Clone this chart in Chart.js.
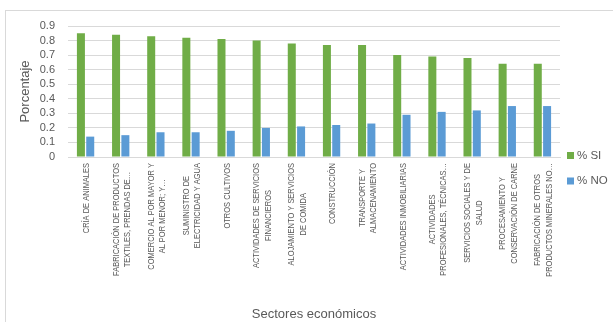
<!DOCTYPE html>
<html>
<head>
<meta charset="utf-8">
<script src="https://cdn.jsdelivr.net/npm/chart.js@4"></script>
<style>
  html, body { margin: 0; padding: 0; background: #fff; }
  #wrap { position: relative; width: 613px; height: 322px; }
</style>
</head>
<body>
<div id="wrap"><canvas id="chart" width="613" height="322"></canvas></div>
<script>
// Sectores (líneas tal como se ven en el eje)
const sectores = [
    ['CRÍA DE ANIMALES'],
    ['FABRICACIÓN DE PRODUCTOS', 'TEXTILES, PRENDAS DE…'],
    ['COMERCIO AL POR MAYOR Y', 'AL POR MENOR; Y…'],
    ['SUMINISTRO DE', 'ELECTRICIDAD Y AGUA'],
    ['OTROS CULTIVOS'],
    ['ACTIVIDADES DE SERVICIOS', 'FINANCIEROS'],
    ['ALOJAMIENTO Y SERVICIOS', 'DE COMIDA'],
    ['CONSTRUCCIÓN'],
    ['TRANSPORTE Y', 'ALMACENAMIENTO'],
    ['ACTIVIDADES INMOBILIARIAS'],
    ['ACTIVIDADES', 'PROFESIONALES, TÉCNICAS…'],
    ['SERVICIOS SOCIALES Y DE', 'SALUD'],
    ['PROCESAMIENTO Y', 'CONSERVACIÓN DE CARNE'],
    ['FABRICACIÓN DE OTROS', 'PRODUCTOS MINERALES NO…']
];

const valoresSi = [0.85, 0.84, 0.83, 0.82, 0.81, 0.80, 0.78, 0.77, 0.77, 0.70, 0.69, 0.68, 0.64, 0.64];
const valoresNo = [0.14, 0.15, 0.17, 0.17, 0.18, 0.20, 0.21, 0.22, 0.23, 0.29, 0.31, 0.32, 0.35, 0.35];

const yTickLabels = ['0', '0.1', '0.2', '0.3', '0.4', '0.5', '0.6', '0.7', '0.8', '0.9'];

const gris = '#595959';
const lineaGris = '#d9d9d9';

// Marco del gráfico + etiquetas del eje X + leyenda
const extrasPlugin = {
    id: 'extras',
    beforeDraw(chart) {
        const ctx = chart.ctx;
        ctx.save();
        ctx.strokeStyle = lineaGris;
        ctx.lineWidth = 1;
        ctx.strokeRect(5.5, 10.5, 700, 400);
        ctx.restore();
    },
    afterDraw(chart) {
        const ctx = chart.ctx;
        const xScale = chart.scales.x;
        const top = chart.chartArea.bottom + 6;
        const pitch = 11.5;
        const sx = 0.78;

        ctx.save();
        ctx.fillStyle = gris;
        ctx.font = '9.6px "Liberation Sans", Arial, sans-serif';
        ctx.textAlign = 'center';
        ctx.textBaseline = 'middle';
        sectores.forEach((lines, i) => {
            const x = xScale.getPixelForValue(i) + 1;
            const maxW = Math.max(...lines.map(l => ctx.measureText(l).width));
            ctx.save();
            ctx.translate(x, top);
            ctx.rotate(-Math.PI / 2);
            ctx.scale(sx, 1);
            lines.forEach((l, j) => {
                const off = (j - (lines.length - 1) / 2) * pitch;
                ctx.fillText(l, -maxW / 2, off);
            });
            ctx.restore();
        });

        // leyenda
        ctx.font = '11.5px "Liberation Sans", Arial, sans-serif';
        ctx.textAlign = 'left';
        ctx.textBaseline = 'middle';
        const items = chart.data.datasets;
        items.forEach((ds, k) => {
            const y = 155.5 + k * 25.5;
            ctx.fillStyle = ds.backgroundColor;
            ctx.fillRect(567, y - 3.5, 7, 7);
            ctx.fillStyle = gris;
            ctx.fillText(ds.label, 577, y);
        });
        ctx.restore();
    }
};

new Chart(document.getElementById('chart'), {
    type: 'bar',
    data: {
        labels: sectores,
        datasets: [
            {
                label: '% SI',
                data: valoresSi,
                backgroundColor: '#70AD47',
                categoryPercentage: 0.53,
                barPercentage: 0.86
            },
            {
                label: '% NO',
                data: valoresNo,
                backgroundColor: '#5B9BD5',
                categoryPercentage: 0.53,
                barPercentage: 0.86
            }
        ]
    },
    options: {
        responsive: false,
        animation: false,
        layout: {
            padding: { top: 26, right: 53, bottom: 0, left: 0 }
        },
        plugins: {
            legend: { display: false },
            tooltip: { enabled: false }
        },
        scales: {
            x: {
                grid: { display: false },
                border: { display: true, color: lineaGris },
                ticks: { display: false },
                title: {
                    display: true,
                    text: 'Sectores económicos',
                    color: gris,
                    font: { family: '"Liberation Sans", Arial, sans-serif', size: 13 },
                    padding: { top: 0, bottom: 0 }
                },
                afterFit: (s) => { s.height = 165; }
            },
            y: {
                min: 0,
                max: 0.9,
                ticks: {
                    stepSize: 0.1,
                    autoSkip: false,
                    color: gris,
                    padding: 13,
                    font: { family: '"Liberation Sans", Arial, sans-serif', size: 11 },
                    callback: (v, i) => yTickLabels[i]
                },
                grid: { color: lineaGris, drawTicks: false },
                border: { display: false },
                title: {
                    display: true,
                    text: 'Porcentaje',
                    color: gris,
                    font: { family: '"Liberation Sans", Arial, sans-serif', size: 13 },
                    padding: { top: 18, bottom: 0 }
                },
                afterFit: (s) => { s.width = 68; }
            }
        }
    },
    plugins: [extrasPlugin]
});
</script>
</body>
</html>
